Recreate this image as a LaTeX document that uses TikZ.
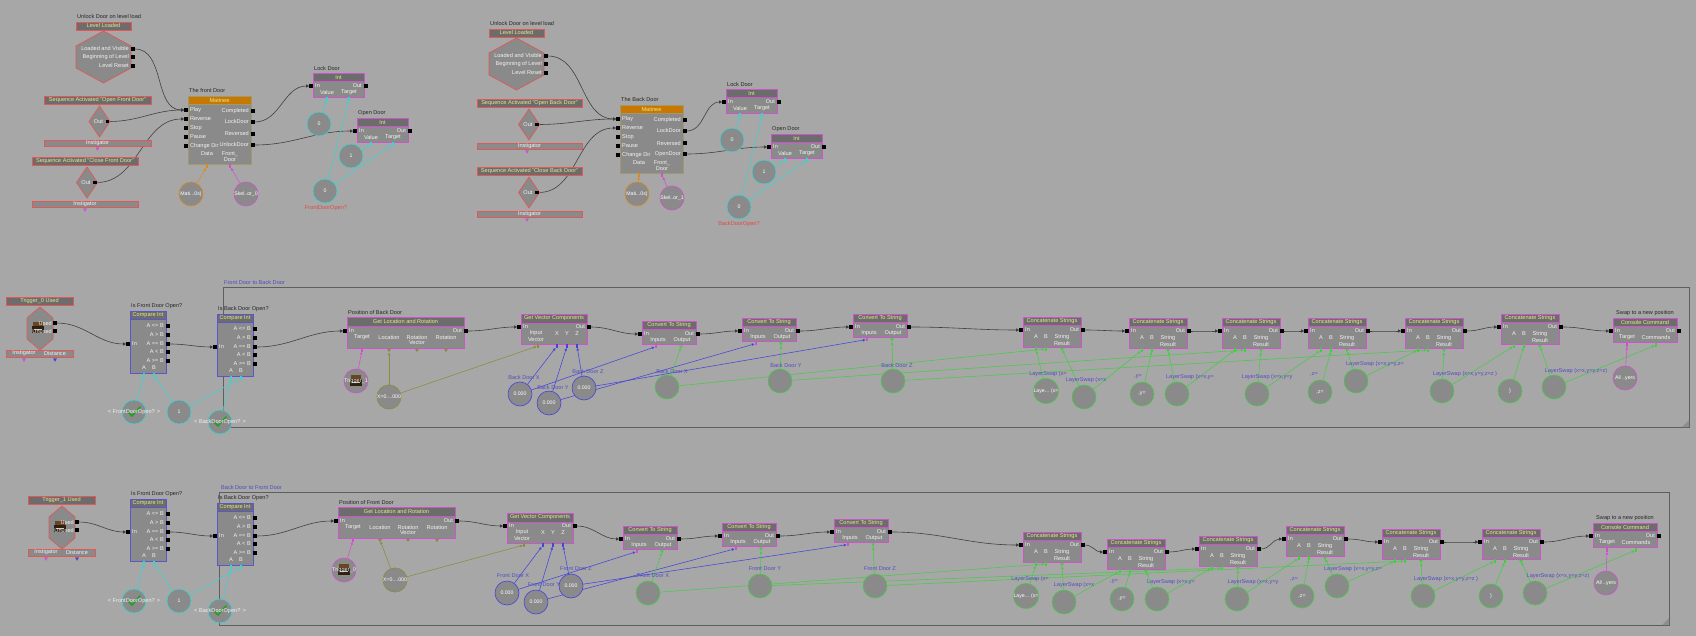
\documentclass[tikz,border=0pt]{standalone}
\usepackage{fontspec}
\setmainfont{Liberation Sans}
\usetikzlibrary{arrows.meta,shapes.geometric}
\pgfdeclarelayer{back}\pgfdeclarelayer{mid}\pgfsetlayers{back,mid,main}
\definecolor{bgc}{HTML}{A7A7A7}
\definecolor{bodyc}{HTML}{8A8A8A}
\definecolor{titc}{HTML}{6C6C6C}
\definecolor{ttxt}{HTML}{E6E68A}
\definecolor{evred}{HTML}{E05858}
\definecolor{actmag}{HTML}{CC55CC}
\definecolor{cmpblue}{HTML}{5858CC}
\definecolor{matorg}{HTML}{C87800}
\definecolor{matbord}{HTML}{A09A6A}
\definecolor{vcyan}{HTML}{3CD2D2}
\definecolor{vgreen}{HTML}{44CC44}
\definecolor{vblue}{HTML}{4444DD}
\definecolor{volive}{HTML}{8C8C3C}
\definecolor{vmag}{HTML}{D050D0}
\definecolor{vorange}{HTML}{E08820}
\definecolor{cmtb}{HTML}{5E5E5E}
\definecolor{cmtt}{HTML}{4C4CC4}
\definecolor{lblblue}{HTML}{5050C0}
\definecolor{lblred}{HTML}{E04848}
\definecolor{chkg}{HTML}{1FA01F}
\newcounter{lblc}
\tikzset{
 bt/.style={font=\fontsize{5.6}{6}\selectfont, text=white!95!black, inner sep=0pt},
 ht/.style={font=\fontsize{5.6}{6}\selectfont, text=black!85, inner sep=0pt},
 ttl/.style={font=\fontsize{5.6}{6}\selectfont, text=ttxt, inner sep=0pt},
 vlb/.style={font=\fontsize{5.6}{6}\selectfont, text=lblblue, inner sep=0pt},
 xp/.style={fill=black, inner sep=0pt, minimum size=3.2pt},
 vsq/.style={fill=#1, inner sep=0pt, minimum width=2.8pt, minimum height=3.6pt},
 vtri/.style={fill=#1, regular polygon, regular polygon sides=3, shape border rotate=180, inner sep=0pt, minimum size=4.5pt},
 vc/.style={circle, draw=#1, fill=bodyc, line width=0.6pt, minimum size=24pt, inner sep=0pt, text=white, font=\fontsize{5.2}{6}\selectfont},
 exl/.style={draw=black!75, line width=0.6pt, -{Triangle[length=3pt,width=3pt]}},
 vl/.style={draw=#1, line width=0.55pt, -{Triangle[length=2.5pt,width=2.5pt]}},
}
\newcommand{\tx}[3][]{\stepcounter{lblc}\node[bt,#1] (lb\arabic{lblc}) at (#2) {#3};}
\newcommand{\hx}[3][]{\stepcounter{lblc}\node[ht,#1] (lb\arabic{lblc}) at (#2) {#3};}
\newcommand{\vlab}[2]{\stepcounter{lblc}\node[vlb] (lb\arabic{lblc}) at (#1) {#2};}
\newcommand{\vcir}[4]{\node[vc=#1] (#2) at (#3) {#4};}
\newcommand{\kx}[2]{\draw[exl] (#1.east) to[out=0,in=180] (#2.west);}
\newcommand{\kv}[3]{\draw[vl=#1] (#2) -- (#3);}
\newcommand{\chk}[2]{\draw[chkg, line width=1.5pt, line cap=round, line join=round] (#1-6,#2) -- (#1-2,#2+4) -- (#1+6,#2-5);}
\newcommand{\ticon}[2]{%
 \fill[black!75!brown] (#1-6,#2-2) rectangle (#1+6,#2+5);
 \fill[brown!55!black] (#1-5,#2-6) rectangle (#1+5,#2-2);
 \draw[white!60!gray, line width=0.3pt] (#1-4,#2+1) -- (#1+4,#2+1);}
\newcommand{\kbox}[9]{%
 \fill[bodyc] (#2,#5) rectangle (#4,#6);
 \fill[#7] (#2,#3) rectangle (#4,#5);
 \draw[#8, line width=0.8pt] (#2,#3) rectangle (#4,#6);
 \draw[#8, line width=0.8pt] (#2,#5) -- (#4,#5);
 \node[ttl] (#1) at ({(#2+#4)/2},{(#3+#5)/2}) {#9};}
\newcommand{\klev}[3]{%
 \hx[anchor=west]{#2+1,#3-5}{Unlock Door on level load}
 \fill[titc] (#2,#3) rectangle (#2+55,#3+8);
 \draw[evred,line width=0.7pt] (#2,#3) rectangle (#2+55,#3+8);
 \node[ttl] (#1) at (#2+27.5,#3+4) {Level Loaded};
 \draw[evred,fill=bodyc,line width=0.7pt] (#2+27.5,#3+9) -- (#2+55,#3+24) -- (#2+55,#3+46) -- (#2+27.5,#3+61) -- (#2,#3+46) -- (#2,#3+24) -- cycle;
 \tx[anchor=east]{#2+53,#3+27}{Loaded and Visible}
 \tx[anchor=east]{#2+53,#3+35}{Beginning of Level}
 \tx[anchor=east]{#2+53,#3+44}{Level Reset}
 \node[xp] (#1-lv) at (#2+57,#3+27) {};
 \node[xp] (#1-bl) at (#2+57,#3+35) {};
 \node[xp] (#1-lr) at (#2+57,#3+44) {};}
\newcommand{\kseq}[6]{%
 \fill[titc] (#2,#3) rectangle (#2+#4,#3+8);
 \draw[evred,line width=0.7pt] (#2,#3) rectangle (#2+#4,#3+8);
 \node[ttl] (#1) at (#2+#4/2,#3+4) {#6};
 \draw[evred,fill=bodyc,line width=0.7pt] (#5,#3+10) -- (#5+10.5,#3+25.5) -- (#5,#3+41) -- (#5-10.5,#3+25.5) -- cycle;
 \tx{#5-1,#3+25.5}{Out}
 \node[xp] (#1-out) at (#5+8,#3+25.5) {};
 \fill[bodyc] (#2,#3+44) rectangle (#2+#4,#3+50);
 \draw[evred,line width=0.7pt] (#2,#3+44) rectangle (#2+#4,#3+50);
 \tx{#2+#4/2,#3+47}{Instigator}
 \node[vtri=vmag] (#1-ins) at (#5-2,#3+52.5) {};}
\newcommand{\ktrig}[4]{%
 \fill[titc] (#2,#3) rectangle (#2+67,#3+8);
 \draw[evred,line width=0.7pt] (#2,#3) rectangle (#2+67,#3+8);
 \node[ttl] (#1) at (#2+33.5,#3+4) {#4};
 \draw[evred,fill=bodyc,line width=0.7pt] (#2+34,#3+10) -- (#2+47,#3+21) -- (#2+47,#3+42) -- (#2+34,#3+53) -- (#2+21,#3+42) -- (#2+21,#3+21) -- cycle;
 \ticon{#2+32}{#3+31}
 \tx[anchor=east]{#2+46,#3+26}{Used}
 \tx[anchor=east]{#2+46,#3+34}{Unused}
 \node[xp] (#1-used) at (#2+49,#3+26) {};
 \node[xp] (#1-unused) at (#2+49,#3+34) {};
 \fill[bodyc] (#2,#3+53) rectangle (#2+67,#3+60);
 \draw[evred,line width=0.7pt] (#2,#3+53) rectangle (#2+67,#3+60);
 \tx{#2+18,#3+56.5}{Instigator}
 \tx{#2+49,#3+56.5}{Distance}
 \node[vtri=vmag] (#1-ins) at (#2+18,#3+62.5) {};
 \node[vtri=vblue] (#1-dist) at (#2+49,#3+62.5) {};}
\newcommand{\kmat}[5]{%
 \hx[anchor=west]{#2+1,#3-5}{#4}
 \kbox{#1}{#2}{#3}{#2+63}{#3+8.5}{#3+68}{matorg}{matbord}{Matinee}
 \node[xp] (#1-play) at (#2-2,#3+14) {}; \tx[anchor=west]{#2+2,#3+14}{Play}
 \node[xp] (#1-rev) at (#2-2,#3+23) {}; \tx[anchor=west]{#2+2,#3+23}{Reverse}
 \node[xp] (#1-stop) at (#2-2,#3+32) {}; \tx[anchor=west]{#2+2,#3+32}{Stop}
 \node[xp] (#1-pause) at (#2-2,#3+41) {}; \tx[anchor=west]{#2+2,#3+41}{Pause}
 \node[xp] (#1-cd) at (#2-2,#3+50) {}; \tx[anchor=west]{#2+2,#3+50}{Change Dir}
 \node[xp] (#1-o1) at (#2+65,#3+15) {}; \tx[anchor=east]{#2+61,#3+15}{Completed}
 \node[xp] (#1-o2) at (#2+65,#3+26) {}; \tx[anchor=east]{#2+61,#3+26}{LockDoor}
 \node[xp] (#1-o3) at (#2+65,#3+38) {}; \tx[anchor=east]{#2+61,#3+38}{Reversed}
 \node[xp] (#1-o4) at (#2+65,#3+49) {}; \tx[anchor=east]{#2+61,#3+49}{#5}
 \tx{#2+19,#3+58}{Data}
 \tx{#2+42,#3+58}{Front\_}
 \tx{#2+42,#3+64}{Door}
 \node[vsq=vorange] (#1-data) at (#2+19,#3+70) {};
 \node[vsq=vmag] (#1-fd) at (#2+42,#3+70) {};}
\newcommand{\kint}[4]{%
 \hx[anchor=west]{#2+1,#3-4.5}{#4}
 \kbox{#1}{#2}{#3}{#2+51}{#3+8.5}{#3+24}{titc}{actmag}{Int}
 \node[xp] (#1-in) at (#2-2,#3+13) {}; \tx[anchor=west]{#2+2,#3+13}{In}
 \node[xp] (#1-out) at (#2+53,#3+13) {}; \tx[anchor=east]{#2+49,#3+13}{Out}
 \tx{#2+14,#3+19.5}{Value} \tx{#2+36,#3+19.5}{Target}
 \node[vsq=vcyan] (#1-val) at (#2+14,#3+26) {};
 \node[vsq=vcyan] (#1-tgt) at (#2+36,#3+26) {};}
\newcommand{\kcmp}[4]{%
 \hx[anchor=west]{#2+1,#3-5}{#4}
 \kbox{#1}{#2}{#3}{#2+36}{#3+8.5}{#3+62}{titc}{cmpblue}{Compare Int}
 \node[xp] (#1-in) at (#2-2,#3+33) {}; \tx[anchor=west]{#2+2,#3+33}{In}
 \node[xp] (#1-o1) at (#2+38,#3+15) {}; \tx[anchor=east]{#2+34,#3+15}{A <= B}
 \node[xp] (#1-o2) at (#2+38,#3+24) {}; \tx[anchor=east]{#2+34,#3+24}{A > B}
 \node[xp] (#1-o3) at (#2+38,#3+33) {}; \tx[anchor=east]{#2+34,#3+33}{A == B}
 \node[xp] (#1-o4) at (#2+38,#3+41) {}; \tx[anchor=east]{#2+34,#3+41}{A < B}
 \node[xp] (#1-o5) at (#2+38,#3+50) {}; \tx[anchor=east]{#2+34,#3+50}{A >= B}
 \tx{#2+14,#3+57}{A} \tx{#2+24,#3+57}{B}
 \node[vsq=vcyan] (#1-a) at (#2+14,#3+64) {};
 \node[vsq=vcyan] (#1-b) at (#2+24,#3+64) {};}
\newcommand{\kgl}[4]{%
 \hx[anchor=west]{#2+1,#3-5}{#4}
 \kbox{#1}{#2}{#3}{#2+117}{#3+9}{#3+31}{titc}{actmag}{Get Location and Rotation}
 \node[xp] (#1-in) at (#2-2,#3+14) {}; \tx[anchor=west]{#2+2,#3+14}{In}
 \node[xp] (#1-out) at (#2+119,#3+14) {}; \tx[anchor=east]{#2+115,#3+14}{Out}
 \tx{#2+15,#3+20}{Target} \tx{#2+42,#3+20}{Location} \tx{#2+70,#3+20}{Rotation} \tx{#2+99,#3+20}{Rotation}
 \tx{#2+70,#3+26}{Vector}
 \node[vsq=vmag] (#1-tgt) at (#2+15,#3+33) {};
 \node[vtri=volive] (#1-loc) at (#2+42,#3+33) {};
 \node[vtri=volive] (#1-rv) at (#2+70,#3+33) {};
 \node[vtri=volive] (#1-rot) at (#2+99,#3+33) {};}
\newcommand{\kgv}[3]{%
 \kbox{#1}{#2}{#3}{#2+66}{#3+9}{#3+30}{titc}{actmag}{Get Vector Components}
 \node[xp] (#1-in) at (#2-2,#3+13) {}; \tx[anchor=west]{#2+2,#3+13}{In}
 \node[xp] (#1-out) at (#2+68,#3+13) {}; \tx[anchor=east]{#2+64,#3+13}{Out}
 \tx{#2+15,#3+19.5}{Input} \tx{#2+15,#3+25.5}{Vector}
 \tx{#2+36,#3+19.5}{X} \tx{#2+46,#3+19.5}{Y} \tx{#2+56,#3+19.5}{Z}
 \node[vsq=volive] (#1-iv) at (#2+17,#3+32) {};
 \node[vsq=vblue] (#1-x) at (#2+36,#3+32) {};
 \node[vsq=vblue] (#1-y) at (#2+46,#3+32) {};
 \node[vsq=vblue] (#1-z) at (#2+56,#3+32) {};}
\newcommand{\kcv}[3]{%
 \kbox{#1}{#2}{#3}{#2+54}{#3+8.5}{#3+23}{titc}{actmag}{Convert To String}
 \node[xp] (#1-in) at (#2-2,#3+13) {}; \tx[anchor=west]{#2+2,#3+13}{In}
 \node[xp] (#1-out) at (#2+56,#3+13) {}; \tx[anchor=east]{#2+52,#3+13}{Out}
 \tx{#2+16,#3+19}{Inputs} \tx{#2+40,#3+19}{Output}
 \node[vsq=vmag] (#1-inp) at (#2+14,#3+25.5) {};
 \node[vtri=vgreen] (#1-outp) at (#2+39,#3+25.5) {};}
\newcommand{\kcc}[3]{%
 \kbox{#1}{#2}{#3}{#2+58}{#3+8.5}{#3+30}{titc}{actmag}{Concatenate Strings}
 \node[xp] (#1-in) at (#2-2,#3+13) {}; \tx[anchor=west]{#2+2,#3+13}{In}
 \node[xp] (#1-out) at (#2+60,#3+13) {}; \tx[anchor=east]{#2+56,#3+13}{Out}
 \tx{#2+13,#3+20}{A} \tx{#2+23,#3+20}{B} \tx{#2+39,#3+20}{String} \tx{#2+39,#3+26}{Result}
 \node[vsq=vgreen] (#1-a) at (#2+13,#3+32) {};
 \node[vsq=vgreen] (#1-b) at (#2+23,#3+32) {};
 \node[vtri=vgreen] (#1-r) at (#2+39,#3+32) {};}
\newcommand{\kcon}[3]{%
 \hx{#2+32,#3-5}{Swap to a new position}
 \kbox{#1}{#2}{#3}{#2+64}{#3+8.5}{#3+24}{titc}{actmag}{Console Command}
 \node[xp] (#1-in) at (#2-2,#3+13) {}; \tx[anchor=west]{#2+2,#3+13}{In}
 \node[xp] (#1-out) at (#2+66,#3+13) {}; \tx[anchor=east]{#2+62,#3+13}{Out}
 \tx{#2+14,#3+19}{Target} \tx{#2+43,#3+19}{Commands}
 \node[vsq=vmag] (#1-tgt) at (#2+14,#3+27) {};
 \node[vsq=vgreen] (#1-cmd) at (#2+43,#3+27) {};}
\begin{document}
\begin{tikzpicture}[x=1pt,y=-1pt]
\useasboundingbox (0,0) rectangle (1696,636);
\begin{pgfonlayer}{back}
\fill[bgc] (0,0) rectangle (1696,636);
\node[draw=cmtb, line width=1.2pt, minimum width=1466pt, minimum height=140pt, anchor=north west, inner sep=0pt] (cmtA) at (223,287) {};
\node[anchor=south west, inner sep=0pt, text=cmtt, font=\fontsize{5.6}{6}\selectfont] (cmtAt) at (224,285) {Front Door to Back Door};
\fill[cmtb!70] (1689,427) -- (1682,427) -- (1689,420) -- cycle;
\node[draw=cmtb, line width=1.2pt, minimum width=1450pt, minimum height=133pt, anchor=north west, inner sep=0pt] (cmtB) at (219,492) {};
\node[anchor=south west, inner sep=0pt, text=cmtt, font=\fontsize{5.6}{6}\selectfont] (cmtBt) at (221,490) {Back Door to Front Door};
\fill[cmtb!70] (1669,625) -- (1662,625) -- (1669,618) -- cycle;
\end{pgfonlayer}

% ---------- top left ----------
\klev{Llev}{76}{22}
\kseq{Lsq1}{44}{96}{107}{99.5}{Sequence Activated "Open Front Door"}
\kseq{Lsq2}{32}{157}{106}{87}{Sequence Activated "Close Front Door"}
\kmat{Lmat}{188}{96}{The front Door}{UnlockDoor}
\kint{Llock}{313}{73}{Lock Door}
\kint{Lopen}{357}{118}{Open Door}
\vcir{vorange}{Lmati}{191,194}{Mati...0s)}
\vcir{vmag}{Lskel}{246,194}{Skel..or\_0}
\vcir{vcyan}{Lc0}{319,124}{0}
\vcir{vcyan}{Lc1}{351,156}{1}
\vcir{vcyan}{Lcf}{325,191}{0}
\node[ht, text=lblred] (Lcfl) at (326,208) {FrontDoorOpen?};

% ---------- top middle ----------
\klev{Rlev}{489}{29}
\kseq{Rsq1}{477}{99}{105}{529}{Sequence Activated "Open Back Door"}
\kseq{Rsq2}{477}{167}{105}{529}{Sequence Activated "Close Back Door"}
\kmat{Rmat}{620}{105}{The Back Door}{OpenDoor}
\kint{Rlock}{726}{89}{Lock Door}
\kint{Ropen}{771}{134}{Open Door}
\vcir{vorange}{Rmati}{637,194}{Mati...0s)}
\vcir{vmag}{Rskel}{672,198}{Skel..or\_1}
\vcir{vcyan}{Rc0}{732,140}{0}
\vcir{vcyan}{Rc1}{764,172}{1}
\vcir{vcyan}{Rcb}{739,207}{0}
\node[ht, text=lblred] (Rcbl) at (739,224) {BackDoorOpen?};

% ---------- middle row ----------
\ktrig{Mtrig}{6}{297}{Trigger\_0 Used}
\kcmp{Mc1}{130}{311}{Is Front Door Open?}
\kcmp{Mc2}{217}{314}{Is Back Door Open?}
\kgl{Mgl}{347}{317}{Position of Back Door}
\kgv{Mgv}{521}{314}
\kcv{Mcv1}{642}{321}
\kcv{Mcv2}{742}{318}
\kcv{Mcv3}{853}{314}
\kcc{Mk1}{1023}{317}
\kcc{Mk2}{1129}{318}
\kcc{Mk3}{1222}{318}
\kcc{Mk4}{1308}{318}
\kcc{Mk5}{1405}{318}
\kcc{Mk6}{1501}{314}
\kcon{Mcon}{1613}{318}
\vcir{vcyan}{Mcf}{134,412}{} \chk{134}{412} \tx{134,412}{< FrontDoorOpen? >}
\vcir{vcyan}{Mc1v}{179,412}{1}
\vcir{vcyan}{Mcb}{220,422}{} \chk{220}{422} \tx{220,422}{< BackDoorOpen? >}
\vcir{vmag}{Mtc}{356,381}{} \ticon{356}{381} \tx{356,381}{Trigger\_1}
\vcir{volive}{Mvec}{389,397}{X=0....000}
\vcir{vblue}{Mfx}{520,394}{0.000} \vlab{524,377}{Back Door X}
\vcir{vblue}{Mfy}{549,403}{0.000} \vlab{553,387}{Back Door Y}
\vcir{vblue}{Mfz}{584,388}{0.000} \vlab{588,371}{Back Door Z}
\vcir{vgreen}{Msx}{667,387}{} \vlab{672,371}{Back Door X}
\vcir{vgreen}{Msy}{780,381}{} \vlab{786,365}{Back Door Y}
\vcir{vgreen}{Msz}{893,381}{} \vlab{897,365}{Back Door Z}
\vcir{vgreen}{Ml1}{1046,391}{Laye... (x=} \vlab{1048,374}{LayerSwap (x=}
\vcir{vgreen}{Mr1}{1084,397}{} \vlab{1086,380}{LayerSwap (x=x}
\vcir{vgreen}{Mcy}{1142,394}{,y=} \vlab{1138,377}{,y=}
\vcir{vgreen}{Mr2}{1177,394}{} \vlab{1190,377}{LayerSwap (x=x,y=}
\vcir{vgreen}{Mr3}{1257,394}{} \vlab{1267,377}{LayerSwap (x=x,y=y}
\vcir{vgreen}{Mcz}{1320,392}{,z=} \vlab{1314,374}{,z=}
\vcir{vgreen}{Mr4}{1356,381}{} \vlab{1375,364}{LayerSwap (x=x,y=y,z=}
\vcir{vgreen}{Mr5}{1442,391}{} \vlab{1465,374}{LayerSwap (x=x,y=y,z=z )}
\vcir{vgreen}{Mcp}{1510,391}{)}
\vcir{vgreen}{Mr6}{1554,387}{} \vlab{1576,371}{LayerSwap (x=x,y=y,z=z)}
\vcir{vmag}{Mall}{1625,378}{All ..yers}

% ---------- bottom row ----------
\ktrig{Btrig}{28}{496}{Trigger\_1 Used}
\kcmp{Bc1}{130}{499}{Is Front Door Open?}
\kcmp{Bc2}{217}{503}{Is Back Door Open?}
\kgl{Bgl}{338}{507}{Position of Front Door}
\kgv{Bgv}{507}{513}
\kcv{Bcv1}{623}{526}
\kcv{Bcv2}{722}{523}
\kcv{Bcv3}{834}{519}
\kcc{Bk1}{1023}{532}
\kcc{Bk2}{1107}{539}
\kcc{Bk3}{1199}{536}
\kcc{Bk4}{1286}{526}
\kcc{Bk5}{1382}{529}
\kcc{Bk6}{1482}{529}
\kcon{Bcon}{1593}{523}
\vcir{vcyan}{Bcf}{134,601}{} \chk{134}{601} \tx{134,601}{< FrontDoorOpen? >}
\vcir{vcyan}{Bc1v}{179,601}{1}
\vcir{vcyan}{Bcb}{220,611}{} \chk{220}{611} \tx{220,611}{< BackDoorOpen? >}
\vcir{vmag}{Btc}{344,570}{} \ticon{344}{570} \tx{344,570}{Trigger\_0}
\vcir{volive}{Bvec}{395,580}{X=0....000}
\vcir{vblue}{Bfx}{507,593}{0.000} \vlab{513,576}{Front Door X}
\vcir{vblue}{Bfy}{536,602}{0.000} \vlab{544,585}{Front Door Y}
\vcir{vblue}{Bfz}{571,586}{0.000} \vlab{576,569}{Front Door Z}
\vcir{vgreen}{Bsx}{648,593}{} \vlab{653,576}{Front Door X}
\vcir{vgreen}{Bsy}{760,586}{} \vlab{765,569}{Front Door Y}
\vcir{vgreen}{Bsz}{875,586}{} \vlab{880,569}{Front Door Z}
\vcir{vgreen}{Bl1}{1026,596}{Laye... (x=} \vlab{1030,579}{LayerSwap (x=}
\vcir{vgreen}{Br1}{1064,602}{} \vlab{1074,585}{LayerSwap (x=x}
\vcir{vgreen}{Bcy}{1122,599}{,y=} \vlab{1114,582}{,y=}
\vcir{vgreen}{Br2}{1157,599}{} \vlab{1171,582}{LayerSwap (x=x,y=}
\vcir{vgreen}{Br3}{1237,599}{} \vlab{1253,582}{LayerSwap (x=x,y=y}
\vcir{vgreen}{Bcz}{1302,596}{,z=} \vlab{1294,579}{,z=}
\vcir{vgreen}{Br4}{1337,586}{} \vlab{1353,569}{LayerSwap (x=x,y=y,z=}
\vcir{vgreen}{Br5}{1423,596}{} \vlab{1446,579}{LayerSwap (x=x,y=y,z=z )}
\vcir{vgreen}{Bcp}{1491,596}{)}
\vcir{vgreen}{Br6}{1535,593}{} \vlab{1558,576}{LayerSwap (x=x,y=y,z=z)}
\vcir{vmag}{Ball}{1606,583}{All ..yers}

% ---------- connectors ----------
\begin{pgfonlayer}{mid}
% top left
\kx{Llev-lv}{Lmat-play}
\kx{Lsq1-out}{Lmat-play}
\kx{Lsq2-out}{Lmat-rev}
\kx{Lmat-o2}{Llock-in}
\kx{Lmat-o4}{Lopen-in}
\kv{vorange}{Lmati}{Lmat-data}
\kv{vmag}{Lskel}{Lmat-fd}
\kv{vcyan}{Lc0}{Llock-val}
\kv{vcyan}{Lc1}{Lopen-val}
\kv{vcyan}{Lcf}{Llock-tgt}
\kv{vcyan}{Lcf}{Lopen-tgt}
% top middle
\kx{Rlev-lv}{Rmat-play}
\kx{Rsq1-out}{Rmat-play}
\kx{Rsq2-out}{Rmat-rev}
\kx{Rmat-o2}{Rlock-in}
\kx{Rmat-o4}{Ropen-in}
\kv{vorange}{Rmati}{Rmat-data}
\kv{vmag}{Rskel}{Rmat-fd}
\kv{vcyan}{Rc0}{Rlock-val}
\kv{vcyan}{Rc1}{Ropen-val}
\kv{vcyan}{Rcb}{Rlock-tgt}
\kv{vcyan}{Rcb}{Ropen-tgt}
% middle row
\kx{Mtrig-used}{Mc1-in}
\kx{Mc1-o3}{Mc2-in}
\kx{Mc2-o3}{Mgl-in}
\kx{Mgl-out}{Mgv-in}
\kx{Mgv-out}{Mcv1-in}
\kx{Mcv1-out}{Mcv2-in}
\kx{Mcv2-out}{Mcv3-in}
\kx{Mcv3-out}{Mk1-in}
\kx{Mk1-out}{Mk2-in}
\kx{Mk2-out}{Mk3-in}
\kx{Mk3-out}{Mk4-in}
\kx{Mk4-out}{Mk5-in}
\kx{Mk5-out}{Mk6-in}
\kx{Mk6-out}{Mcon-in}
\kv{vcyan}{Mcf}{Mc1-a}
\kv{vcyan}{Mc1v}{Mc1-b}
\kv{vcyan}{Mc1v}{Mc2-b}
\kv{vcyan}{Mcb}{Mc2-a}
\kv{vmag}{Mtc}{Mgl-tgt}
\kv{volive}{Mvec}{Mgl-loc}
\kv{volive}{Mvec}{Mgv-iv}
\kv{vblue}{Mfx}{Mgv-x}
\kv{vblue}{Mfy}{Mgv-y}
\kv{vblue}{Mfz}{Mgv-z}
\kv{vblue}{Mfx}{Mcv1-inp}
\kv{vblue}{Mfy}{Mcv2-inp}
\kv{vblue}{Mfz}{Mcv3-inp}
\kv{vgreen}{Msx}{Mcv1-outp}
\kv{vgreen}{Msy}{Mcv2-outp}
\kv{vgreen}{Msz}{Mcv3-outp}
\kv{vgreen}{Msx}{Mk1-b}
\kv{vgreen}{Msy}{Mk3-b}
\kv{vgreen}{Msz}{Mk5-b}
\kv{vgreen}{Ml1}{Mk1-a}
\kv{vgreen}{Mr1}{Mk1-r}
\kv{vgreen}{Mr1}{Mk2-a}
\kv{vgreen}{Mcy}{Mk2-b}
\kv{vgreen}{Mr2}{Mk2-r}
\kv{vgreen}{Mr2}{Mk3-a}
\kv{vgreen}{Mr3}{Mk3-r}
\kv{vgreen}{Mr3}{Mk4-a}
\kv{vgreen}{Mcz}{Mk4-b}
\kv{vgreen}{Mr4}{Mk4-r}
\kv{vgreen}{Mr4}{Mk5-a}
\kv{vgreen}{Mr5}{Mk5-r}
\kv{vgreen}{Mr5}{Mk6-a}
\kv{vgreen}{Mcp}{Mk6-b}
\kv{vgreen}{Mr6}{Mk6-r}
\kv{vgreen}{Mr6}{Mcon-cmd}
\kv{vmag}{Mall}{Mcon-tgt}
% bottom row
\kx{Btrig-used}{Bc1-in}
\kx{Bc1-o3}{Bc2-in}
\kx{Bc2-o3}{Bgl-in}
\kx{Bgl-out}{Bgv-in}
\kx{Bgv-out}{Bcv1-in}
\kx{Bcv1-out}{Bcv2-in}
\kx{Bcv2-out}{Bcv3-in}
\kx{Bcv3-out}{Bk1-in}
\kx{Bk1-out}{Bk2-in}
\kx{Bk2-out}{Bk3-in}
\kx{Bk3-out}{Bk4-in}
\kx{Bk4-out}{Bk5-in}
\kx{Bk5-out}{Bk6-in}
\kx{Bk6-out}{Bcon-in}
\kv{vcyan}{Bcf}{Bc1-a}
\kv{vcyan}{Bc1v}{Bc1-b}
\kv{vcyan}{Bc1v}{Bc2-b}
\kv{vcyan}{Bcb}{Bc2-a}
\kv{vmag}{Btc}{Bgl-tgt}
\kv{volive}{Bvec}{Bgl-loc}
\kv{volive}{Bvec}{Bgv-iv}
\kv{vblue}{Bfx}{Bgv-x}
\kv{vblue}{Bfy}{Bgv-y}
\kv{vblue}{Bfz}{Bgv-z}
\kv{vblue}{Bfx}{Bcv1-inp}
\kv{vblue}{Bfy}{Bcv2-inp}
\kv{vblue}{Bfz}{Bcv3-inp}
\kv{vgreen}{Bsx}{Bcv1-outp}
\kv{vgreen}{Bsy}{Bcv2-outp}
\kv{vgreen}{Bsz}{Bcv3-outp}
\kv{vgreen}{Bsx}{Bk1-b}
\kv{vgreen}{Bsy}{Bk3-b}
\kv{vgreen}{Bsz}{Bk5-b}
\kv{vgreen}{Bl1}{Bk1-a}
\kv{vgreen}{Br1}{Bk1-r}
\kv{vgreen}{Br1}{Bk2-a}
\kv{vgreen}{Bcy}{Bk2-b}
\kv{vgreen}{Br2}{Bk2-r}
\kv{vgreen}{Br2}{Bk3-a}
\kv{vgreen}{Br3}{Bk3-r}
\kv{vgreen}{Br3}{Bk4-a}
\kv{vgreen}{Bcz}{Bk4-b}
\kv{vgreen}{Br4}{Bk4-r}
\kv{vgreen}{Br4}{Bk5-a}
\kv{vgreen}{Br5}{Bk5-r}
\kv{vgreen}{Br5}{Bk6-a}
\kv{vgreen}{Bcp}{Bk6-b}
\kv{vgreen}{Br6}{Bk6-r}
\kv{vgreen}{Br6}{Bcon-cmd}
\kv{vmag}{Ball}{Bcon-tgt}
\end{pgfonlayer}
\end{tikzpicture}
\end{document}
